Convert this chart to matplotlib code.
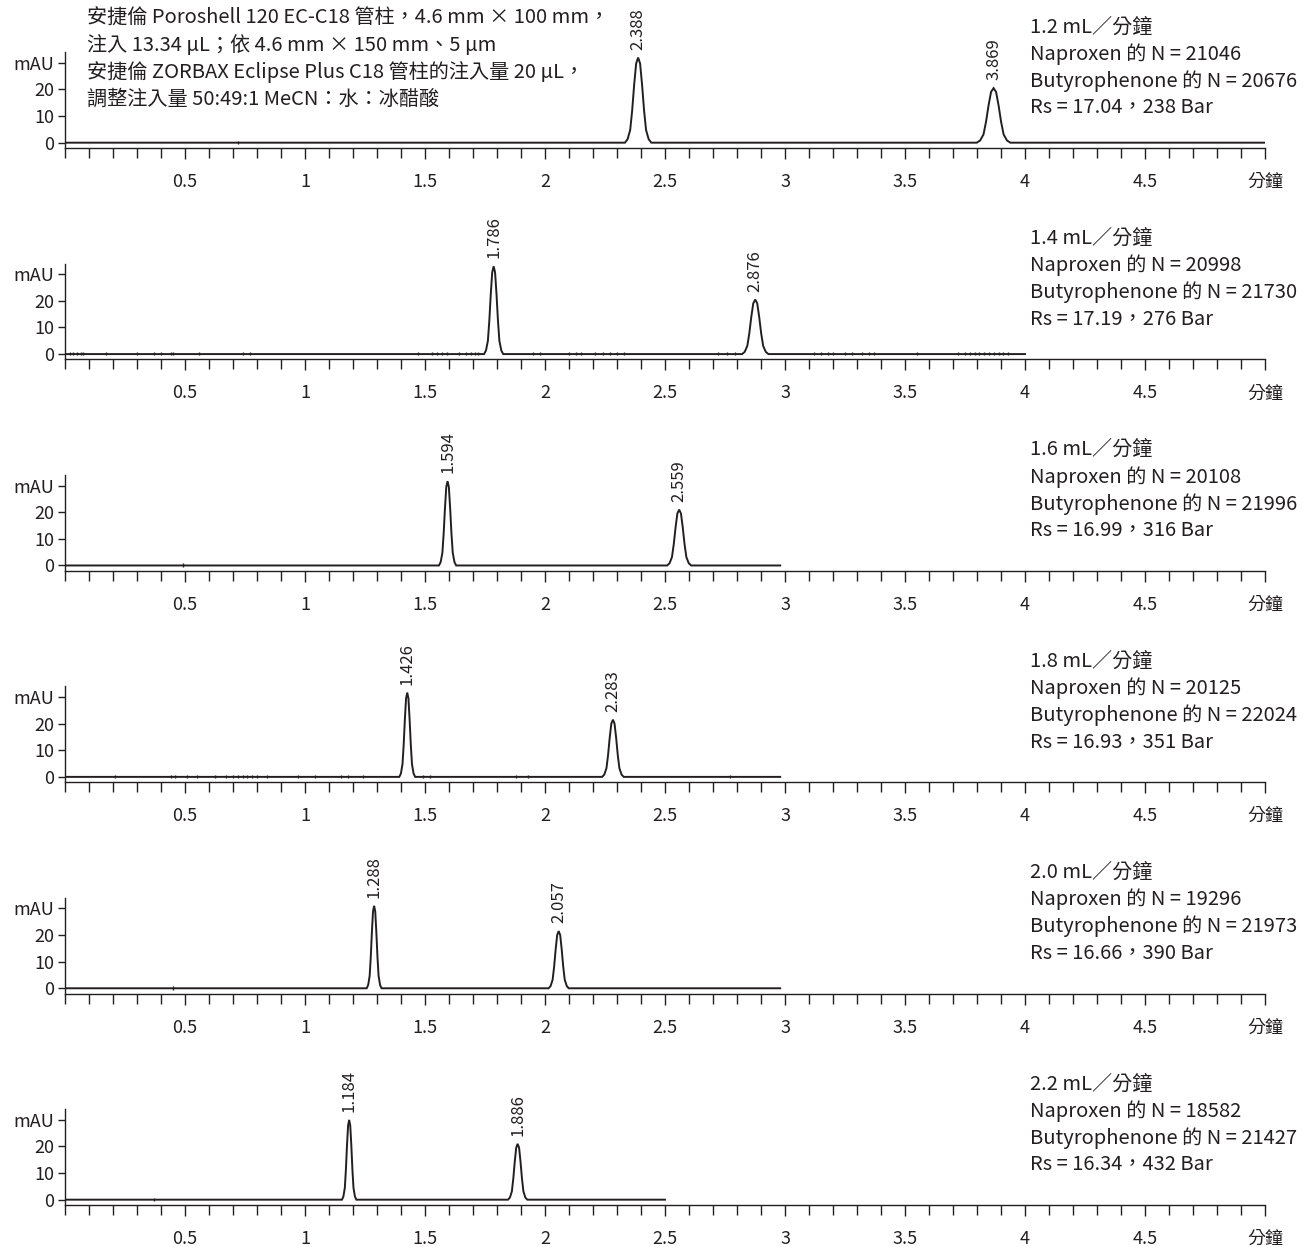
import matplotlib
matplotlib.use("Agg")
import matplotlib.pyplot as plt
from matplotlib.ticker import MultipleLocator, FixedLocator, FixedFormatter

plt.rcParams['font.family'] = ['Noto Sans CJK TC', 'DejaVu Sans']

INK = "#231f20"

# one panel per flow rate
flow_labels = ["1.2 mL／分鐘", "1.4 mL／分鐘", "1.6 mL／分鐘",
               "1.8 mL／分鐘", "2.0 mL／分鐘", "2.2 mL／分鐘"]
naproxen_n = [21046, 20998, 20108, 20125, 19296, 18582]
butyro_n = [20676, 21730, 21996, 22024, 21973, 21427]
rs_values = ["17.04", "17.19", "16.99", "16.93", "16.66", "16.34"]
pressure_bar = [238, 276, 316, 351, 390, 432]
run_end = [5.0, 4.0, 2.98, 2.98, 2.98, 2.5]

# peaks: retention time, apex height (mAU), half base width (min)
peak1_rt = [2.388, 1.786, 1.594, 1.426, 1.288, 1.184]
peak1_h = [32.0, 33.0, 31.7, 31.7, 31.0, 30.0]
peak1_w = [0.055, 0.040, 0.036, 0.033, 0.031, 0.030]
peak2_rt = [3.869, 2.876, 2.559, 2.283, 2.057, 1.886]
peak2_h = [20.5, 20.5, 21.0, 21.5, 21.5, 21.0]
peak2_w = [0.070, 0.055, 0.050, 0.045, 0.042, 0.040]

# peak profile (offset in half widths, fraction of apex)
profile_off = [-1.0, -0.8, -0.6, -0.45, -0.3, -0.15, 0.0, 0.15, 0.3, 0.45, 0.6, 0.8, 1.0]
profile_lvl = [0.0, 0.04, 0.15, 0.38, 0.68, 0.93, 1.0, 0.93, 0.68, 0.38, 0.15, 0.04, 0.0]

# small baseline blips
blips = [
    [0.72],
    [0.02, 0.035, 0.05, 0.065, 0.075, 0.17, 0.30, 0.37, 0.40, 0.44, 0.45, 0.56,
     0.74, 0.77, 1.47, 1.53, 1.55, 1.57, 1.59, 1.64, 1.67, 1.69, 1.71, 1.72,
     1.95, 1.98, 2.10, 2.13, 2.15, 2.21, 2.24, 2.27, 2.30, 2.33, 2.72, 2.76,
     2.79, 3.12, 3.15, 3.18, 3.20, 3.25, 3.28, 3.32, 3.35, 3.37, 3.55, 3.72,
     3.75, 3.77, 3.79, 3.81, 3.83, 3.85, 3.87, 3.89, 3.91, 3.93],
    [0.49],
    [0.21, 0.44, 0.46, 0.51, 0.55, 0.625, 0.67, 0.70, 0.72, 0.74, 0.76, 0.78,
     0.80, 0.84, 0.97, 1.04, 1.15, 1.18, 1.24, 1.49, 1.52, 1.88, 1.93, 2.77],
    [0.45],
    [0.37],
]

header_lines = [
    "安捷倫 Poroshell 120 EC-C18 管柱，4.6 mm × 100 mm，",
    "注入 13.34 µL；依 4.6 mm × 150 mm、5 µm",
    "安捷倫 ZORBAX Eclipse Plus C18 管柱的注入量 20 µL，",
    "調整注入量 50:49:1 MeCN：水：冰醋酸",
]

x_major = [0.5, 1, 1.5, 2, 2.5, 3, 3.5, 4, 4.5, 5]
x_major_labels = ["0.5", "1", "1.5", "2", "2.5", "3", "3.5", "4", "4.5", "分鐘"]
y_ticks = [0, 10, 20, 30]
y_tick_labels = ["0", "10", "20", "mAU"]

W, H = 1308, 1247
fig = plt.figure(figsize=(W / 100, H / 100), dpi=100)

px_per_mau = 2.66
y_lo, y_hi = -2.0, 34.0
ax_h = (y_hi - y_lo) * px_per_mau

for i in range(6):
    bottom_px = 148 + 211.4 * i
    ax = fig.add_axes([65 / W, 1 - bottom_px / H, 1200 / W, ax_h / H])
    ax.set_xlim(0, 5)
    ax.set_ylim(y_lo, y_hi)

    # build trace: baseline with two peaks
    ts = [0.0]
    vs = [0.0]
    for rt, h, w in [(peak1_rt[i], peak1_h[i], peak1_w[i]),
                     (peak2_rt[i], peak2_h[i], peak2_w[i])]:
        for o, l in zip(profile_off, profile_lvl):
            ts.append(rt + o * w)
            vs.append(h * l)
    ts.append(run_end[i])
    vs.append(0.0)
    ax.plot(ts, vs, color=INK, lw=1.4, solid_joinstyle="miter")
    ax.vlines(blips[i], -0.5, 0.8, color=INK, lw=1.0)

    # peak labels
    for rt, h in [(peak1_rt[i], peak1_h[i]), (peak2_rt[i], peak2_h[i])]:
        ax.text(rt, h + 3.0, f"{rt:.3f}", rotation=90, ha="center", va="bottom",
                fontsize=12, color=INK, clip_on=False)

    # spines
    for s in ["top", "right"]:
        ax.spines[s].set_visible(False)
    ax.spines["left"].set_color(INK)
    ax.spines["bottom"].set_color(INK)
    ax.spines["left"].set_linewidth(1.0)
    ax.spines["bottom"].set_linewidth(1.0)

    ax.xaxis.set_major_locator(FixedLocator(x_major))
    ax.xaxis.set_major_formatter(FixedFormatter(x_major_labels))
    ax.xaxis.set_minor_locator(MultipleLocator(0.1))
    ax.tick_params(axis="x", which="major", direction="out", length=8,
                   width=1.0, colors=INK, labelsize=13, pad=10)
    ax.tick_params(axis="x", which="minor", direction="out", length=7,
                   width=1.0, colors=INK)
    ax.set_yticks(y_ticks)
    ax.set_yticklabels(y_tick_labels)
    ax.tick_params(axis="y", direction="out", length=5, width=1.0,
                   colors=INK, labelsize=13, pad=3)

    # run conditions on the right
    info = [flow_labels[i],
            f"Naproxen 的 N = {naproxen_n[i]}",
            f"Butyrophenone 的 N = {butyro_n[i]}",
            f"Rs = {rs_values[i]}，{pressure_bar[i]} Bar"]
    for k, line in enumerate(info):
        ax.text(4.02, 43.5 - 10.15 * k, line, ha="left", va="center",
                fontsize=14.5, color=INK, clip_on=False)

    if i == 0:
        for k, line in enumerate(header_lines):
            ax.text(0.09, 46.8 - 10.15 * k, line, ha="left", va="center",
                    fontsize=14.5, color=INK, clip_on=False)

fig.savefig("out.png", dpi=100)
